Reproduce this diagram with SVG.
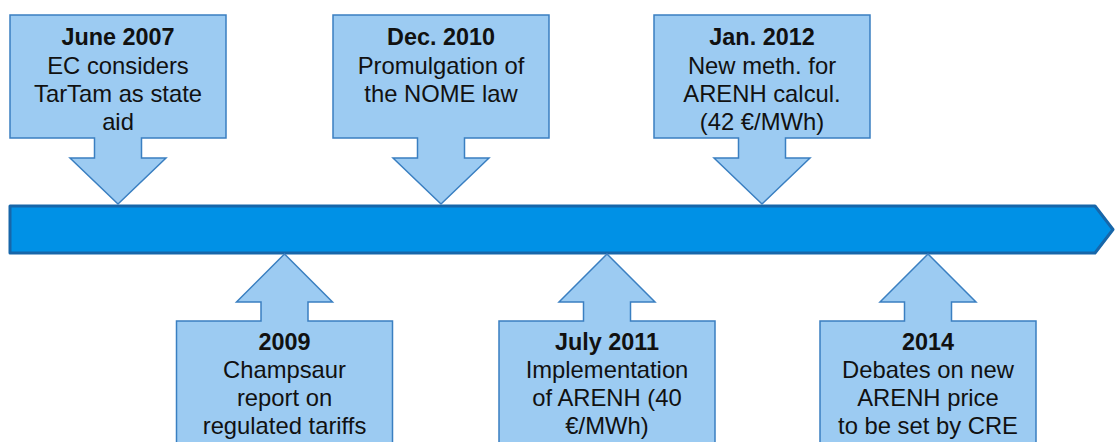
<svg xmlns="http://www.w3.org/2000/svg" width="1115" height="442" viewBox="0 0 1115 442">
  <style>
    .co { fill: #9CCBF2; stroke: #3A7FC1; stroke-width: 1.5; stroke-linejoin: miter; }
    .bar { fill: #0091E6; stroke: #1766A9; stroke-width: 3; stroke-linejoin: round; }
    text { font-family: "Liberation Sans", Arial, sans-serif; font-size: 23.8px; fill: #111; text-anchor: middle; }
    .b { font-weight: bold; font-size: 23.4px; }
  </style>
  <defs>
    <path id="down" d="M-108,15 H108 V138 H23.5 V158 H48 L0,204 L-48,158 H-23.5 V138 H-108 Z"/>
    <path id="up" d="M0,254 L48,302 H23.5 V321 H108 V446 H-108 V321 H-23.5 V302 H-48 Z"/>
  </defs>

  <g id="connectors">
    <path id="timeline" class="bar" d="M10,206 H1095 L1113,229.5 L1095,253 H10 Z"/>
  </g>

  <g id="june2007" transform="translate(118,0)">
    <use href="#down" class="co"/>
    <text x="0" y="45" class="b">June 2007</text>
    <text x="0" y="74">EC considers</text>
    <text x="0" y="102">TarTam as state</text>
    <text x="0" y="130">aid</text>
  </g>

  <g id="dec2010" transform="translate(441,0)">
    <use href="#down" class="co"/>
    <text x="0" y="45" class="b">Dec. 2010</text>
    <text x="0" y="74">Promulgation of</text>
    <text x="0" y="102">the NOME law</text>
  </g>

  <g id="jan2012" transform="translate(762,0)">
    <use href="#down" class="co"/>
    <text x="0" y="45" class="b">Jan. 2012</text>
    <text x="0" y="74">New meth. for</text>
    <text x="0" y="102">ARENH calcul.</text>
    <text x="0" y="130">(42 €/MWh)</text>
  </g>

  <g id="y2009" transform="translate(284.5,0)">
    <use href="#up" class="co"/>
    <text x="0" y="350" class="b">2009</text>
    <text x="0" y="378">Champsaur</text>
    <text x="0" y="406">report on</text>
    <text x="0" y="434">regulated tariffs</text>
  </g>

  <g id="july2011" transform="translate(607,0)">
    <use href="#up" class="co"/>
    <text x="0" y="350" class="b">July 2011</text>
    <text x="0" y="378">Implementation</text>
    <text x="0" y="406">of ARENH (40</text>
    <text x="0" y="434">€/MWh)</text>
  </g>

  <g id="y2014" transform="translate(928,0)">
    <use href="#up" class="co"/>
    <text x="0" y="350" class="b">2014</text>
    <text x="0" y="378">Debates on new</text>
    <text x="0" y="406">ARENH price</text>
    <text x="0" y="434">to be set by CRE</text>
  </g>
</svg>
